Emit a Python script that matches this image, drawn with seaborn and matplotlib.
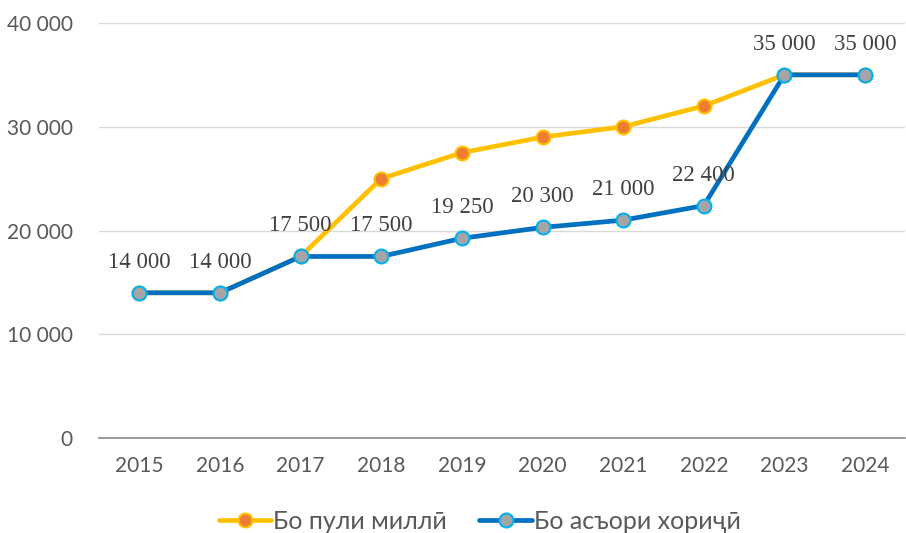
import numpy as np
import pandas as pd
import matplotlib
matplotlib.use("Agg")
import matplotlib.pyplot as plt
import seaborn as sns
from matplotlib.ticker import FuncFormatter, FixedLocator

# data
years = ["2015", "2016", "2017", "2018", "2019", "2020", "2021", "2022", "2023", "2024"]
national = [14000, 14000, 17500, 25000, 27500, 29000, 30000, 32000, 35000, 35000]
foreign = [14000, 14000, 17500, 17500, 19250, 20300, 21000, 22400, 35000, 35000]
series_names = ["Бо пули миллӣ", "Бо асъори хориҷӣ"]

sns.set_theme(style="white")
plt.rcParams["font.family"] = ["Lato", "DejaVu Sans"]

df = pd.DataFrame({"pos": np.arange(len(years)), "national": national, "foreign": foreign})

fig = plt.figure(figsize=(9.06, 5.33), dpi=100)
ax = fig.add_axes([0.1093, 0.178, 0.89, 0.779])

sns.lineplot(data=df, x="pos", y="national", ax=ax, color="#FFC000", linewidth=3.4,
             marker="o", markersize=10, markerfacecolor="#ED7D31", markeredgecolor="#FFC000",
             markeredgewidth=1.5, label=series_names[0], zorder=3)
sns.lineplot(data=df, x="pos", y="foreign", ax=ax, color="#0070C0", linewidth=3.4,
             marker="o", markersize=10, markerfacecolor="#A5A5A5", markeredgecolor="#00B0F0",
             markeredgewidth=1.5, label=series_names[1], zorder=4)

# data labels for the foreign currency series
for i, v in enumerate(foreign):
    ax.annotate(f"{v:,}".replace(",", " "), (i, v), xytext=(0, 22), textcoords="offset points",
                ha="center", va="center", fontsize=16.5, color="#404040",
                family=["Liberation Serif", "DejaVu Serif"], zorder=5)

ax.set_xlim(-0.5, len(years) - 0.5)
ax.set_ylim(0, 40000)
ax.set_yticks([0, 10000, 20000, 30000, 40000])
ax.yaxis.set_major_formatter(FuncFormatter(lambda v, p: f"{int(v):,}".replace(",", " ")))
ax.set_xticks(range(len(years)))
ax.set_xticklabels(years)
ax.xaxis.set_minor_locator(FixedLocator(np.arange(-0.5, len(years), 1.0)))
ax.tick_params(axis="x", which="major", length=0, pad=13, labelsize=15, labelcolor="#595959")
ax.tick_params(axis="x", which="minor", length=6, width=1, color="#878787", direction="out")
ax.tick_params(axis="y", length=0, pad=19, labelsize=15, labelcolor="#595959")
ax.set_xlabel("")
ax.set_ylabel("")

ax.grid(axis="y", color="#D9D9D9", linewidth=1)
ax.set_axisbelow(True)
for s in ["left", "right", "top"]:
    ax.spines[s].set_visible(False)
ax.spines["bottom"].set_color("#878787")
ax.spines["bottom"].set_linewidth(1.2)
ax.spines["bottom"].set_zorder(2)

ax.legend(loc="center", bbox_to_anchor=(0.472, -0.2), ncol=2, frameon=False,
          fontsize=18, labelcolor="#595959", handlelength=2.1, columnspacing=1.3,
          handletextpad=0.08)

fig.savefig("out.png", dpi=100)
